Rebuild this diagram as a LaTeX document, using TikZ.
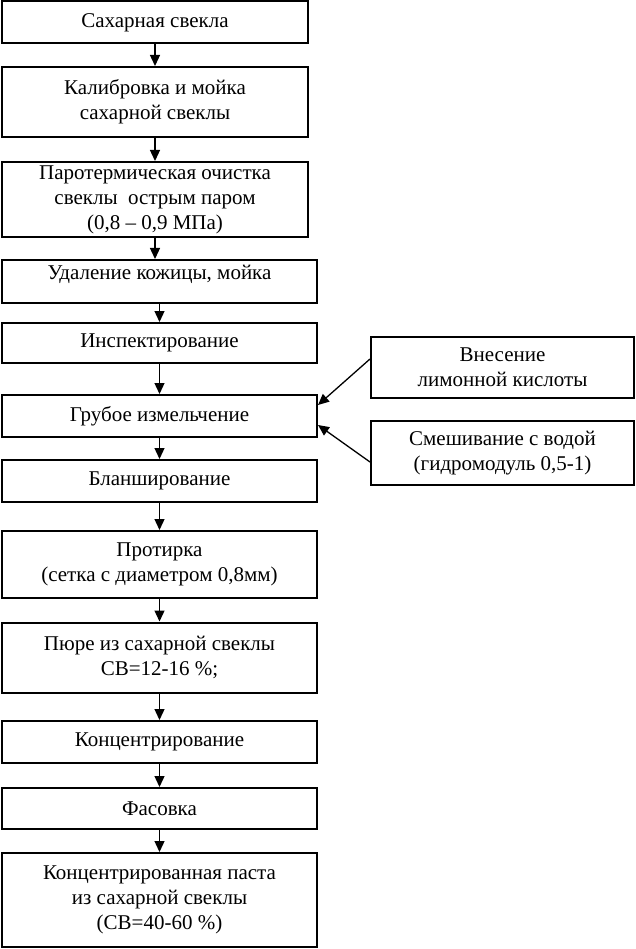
\documentclass[tikz,border=0pt]{standalone}
\usepackage{fontspec}
\setmainfont{Liberation Serif}
\usetikzlibrary{arrows.meta}
\begin{document}
\begin{tikzpicture}[x=1pt,y=-1pt,
  box/.style={draw=black,line width=2pt,inner sep=0pt,align=center,
    font=\fontsize{21}{25}\selectfont},
  nw/.style={box,minimum width=306pt},
  ww/.style={box,minimum width=315pt},
  rw/.style={box,minimum width=263pt},
  arr/.style={line width=1.3pt,-{Triangle[length=11pt,width=10pt]}}]
\useasboundingbox (0,0) rectangle (636,949);
\node[nw,minimum height=42pt] (b1) at (155,22.5) {Сахарная свекла};
\node[nw,minimum height=70pt] (b2) at (155,102) {Калибровка и мойка\\сахарной свеклы};
\node[nw,minimum height=75pt] (b3) at (155,199.5) {Паротермическая очистка\\свеклы\ \ острым паром\\(0,8 – 0,9 МПа)};
\node[ww,minimum height=43pt,text depth=18pt] (b4) at (159.5,281.5) {Удаление кожицы, мойка};
\node[ww,minimum height=40pt] (b5) at (159.5,343) {Инспектирование};
\node[ww,minimum height=42pt] (b6) at (159.5,416) {Грубое измельчение};
\node[ww,minimum height=42pt] (b7) at (159.5,481) {Бланширование};
\node[ww,minimum height=67pt] (b8) at (159.5,564.5) {Протирка\\(сетка с диаметром 0,8мм)};
\node[ww,minimum height=70pt] (b9) at (159.5,657.5) {Пюре из сахарной свеклы\\СВ=12-16 \%;};
\node[ww,minimum height=42pt] (b10) at (159.5,742) {Концентрирование};
\node[ww,minimum height=41pt] (b11) at (159.5,808.5) {Фасовка};
\node[ww,minimum height=94pt] (b12) at (159.5,900) {Концентрированная паста\\из сахарной свеклы\\(СВ=40-60 \%)};
\node[rw,minimum height=61pt] (ra) at (502.5,367.5) {Внесение\\лимонной кислоты};
\node[rw,minimum height=64pt] (rb) at (502.5,453) {Смешивание с водой\\(гидромодуль 0,5-1)};
\foreach \a/\b in {b1/b2,b2/b3,b3/b4,b4/b5,b5/b6,b6/b7,b7/b8,b8/b9,b9/b10,b10/b11,b11/b12}
  \draw[arr] (\a.south) -- (\a.south |- \b.north);
\draw[arr] ([yshift=8.5pt]ra.west) -- ([yshift=11pt]b6.east);
\draw[arr] ([yshift=-9pt]rb.west) -- ([yshift=-9pt]b6.east);
\end{tikzpicture}
\end{document}
